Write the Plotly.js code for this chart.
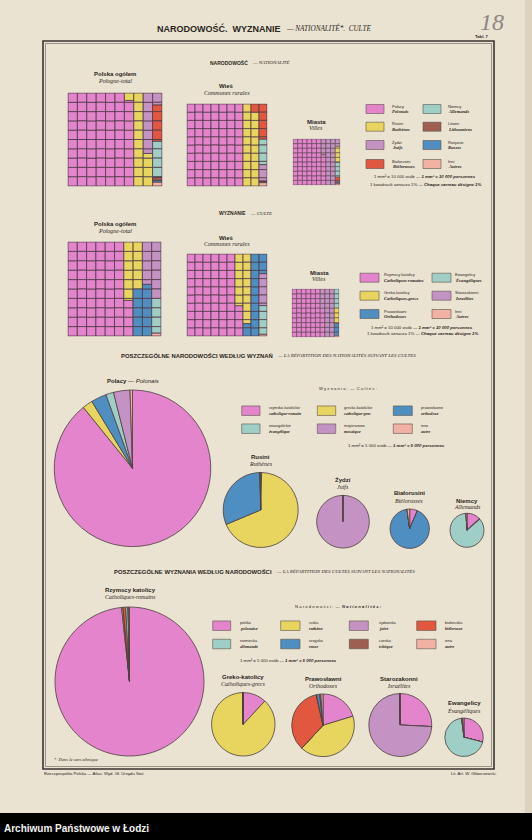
<!DOCTYPE html>
<html><head><meta charset="utf-8">
<script src="https://cdn.plot.ly/plotly-3.0.1.min.js"></script>
<style>html,body{margin:0;padding:0;background:#000;}#chart{width:532px;height:840px;}</style>
</head><body><div id="chart"></div>
<script>
// ---------- DATA (percentages read from the plate) ----------
const natNames = ['Polacy','Rusini','Żydzi','Białorusini','Niemcy','Litwini','Rosjanie','Inni'];
const natFr = ['Polonais','Ruthènes','Juifs','Biélorusses','Allemands','Lithuaniens','Russes','Autres'];
const natPolska = [69.2, 14.3, 7.8, 3.9, 3.9, 0.3, 0.2, 0.4];
const natWies   = [70.0, 19.0, 2.0, 5.3, 3.1, 0.1, 0.1, 0.4];
const natMiasta = [66.6, 3.5, 25.0, 1.0, 3.2, 0.1, 0.3, 0.3];

const relNames = ['Rzymscy katolicy','Greko-katolicy','Prawosławni','Ewangelicy','Starozakonni','Inni'];
const relFr = ['Catholiques romains','Catholiques-grecs','Orthodoxes','Évangéliques','Israélites','Autres'];
const relPolska = [63.8, 11.2, 10.5, 3.7, 10.5, 0.3];
const relWies   = [63.7, 14.8, 13.9, 3.5, 3.9, 0.2];
const relMiasta = [66.0, 3.2, 2.5, 4.0, 24.0, 0.3];

const cultNames = ['rzymsko-katolickie','grecko-katolickie','prawosławne','ewangelickie','mojżeszowe','inne'];
const cultFr = ['catholique-romain','catholique-grec','orthodoxe','évangélique','mosaïque','autre'];
const polacyCult      = [89.2, 2.1, 3.2, 1.6, 3.4, 0.5];
const rusiniCult      = [0.4, 68.3, 31.0, 0.1, 0.0, 0.2];
const zydziCult       = [0.2, 0.0, 0.0, 0.0, 99.6, 0.2];
const bialorusiniCult = [6.4, 0.0, 91.4, 0.0, 0.0, 2.2];
const niemcyCult      = [13.0, 0.1, 0.5, 85.4, 0.0, 1.0];

const ethNames = ['polska','ruska','żydowska','białoruska','niemiecka','rosyjska','czeska','inna'];
const ethFr = ['polonaise','ruthène','juive','biélorusse','allemande','russe','tchèque','autre'];
const rzymscyEth     = [98.3, 0.3, 0.0, 0.6, 0.5, 0.0, 0.1, 0.2];
const grekoEth       = [11.9, 87.8, 0.0, 0.1, 0.1, 0.0, 0.0, 0.1];
const prawoslawniEth = [20.3, 41.6, 0.0, 34.6, 0.2, 1.6, 0.6, 1.1];
const starozakonniEth= [25.8, 0.0, 74.0, 0.0, 0.0, 0.0, 0.0, 0.2];
const ewangelicyEth  = [29.0, 0.0, 0.0, 0.0, 69.0, 0.0, 1.0, 1.0];

// ---------- STYLE ----------
const PINK='#e384cc', YEL='#e8d55f', PUR='#c593c3', RED='#e2573f', TEAL='#9fcec6', BRN='#9f5f50', BLUE='#4e8ec1', SAL='#f1b2a3';
const NAT_COL  = [PINK, YEL, PUR, RED, TEAL, BRN, BLUE, SAL];
const REL_COL  = [PINK, YEL, BLUE, TEAL, PUR, SAL];
const ETH_COL  = [PINK, YEL, PUR, RED, TEAL, BLUE, BRN, SAL];
const INK='#2a2522', GRID='#4f3a46', PIELINE='#4d3f3f';
const SANS='Liberation Sans, Arial, sans-serif', SERIF='Liberation Serif, Times New Roman, serif';
const W=532, H=840;
const X = px => px/W, Y = py => 1 - py/H;

const traces=[], annotations=[], shapes=[];
const layout = {width:W, height:H, margin:{l:0,r:0,t:0,b:0,pad:0}, paper_bgcolor:'#eae3d1', plot_bgcolor:'rgba(0,0,0,0)',
  showlegend:false, barmode:'overlay', bargap:0, annotations, shapes};

// ---------- WAFFLES ----------
function wafflePieces(vals){
  const total = vals.reduce((a,b)=>a+b,0);
  const order = vals.map((v,i)=>i).filter(i=>i!==vals.length-1)
    .sort((a,b)=>vals[b]-vals[a]).concat([vals.length-1]);
  let t=0; const out=[];
  order.forEach(i=>{
    const a=t*100/total, b=(t+vals[i])*100/total; t+=vals[i];
    const p={idx:i,x:[],base:[],y:[]};
    let s=a;
    while(s < b-1e-9){
      const cell=Math.floor(s+1e-9), e=Math.min(b, cell+1);
      const col=Math.floor(cell/10), o0=s-col*10, o1=e-col*10;
      let y0,y1;
      if(col%2===0){y0=o0;y1=o1;} else {y0=10-o1;y1=10-o0;}
      p.x.push(col); p.base.push(y0); p.y.push(y1-y0);
      s=e;
    }
    out.push(p);
  });
  return out;
}
const waffles = [
  {vals:natPolska, cols:NAT_COL, box:[68,93,162,186], lw:0.8},
  {vals:natWies,   cols:NAT_COL, box:[187,104,267,186], lw:0.75},
  {vals:natMiasta, cols:NAT_COL, box:[293,139,340,185], lw:0.55},
  {vals:relPolska, cols:REL_COL, box:[68,242,161,336], lw:0.8},
  {vals:relWies,   cols:REL_COL, box:[187,254,267,336], lw:0.75},
  {vals:relMiasta, cols:REL_COL, box:[292,289,339,337], lw:0.55},
];
waffles.forEach((w,k)=>{
  const n=k+1, xa='x'+(n>1?n:''), ya='y'+(n>1?n:'');
  const [x0,y0,x1,y1]=w.box;
  const pad=0.06, cw=(x1-x0)/10, ch=(y1-y0)/10;
  layout['xaxis'+(n>1?n:'')] = {domain:[X(x0-pad*cw), X(x1+pad*cw)], range:[-0.5-pad, 9.5+pad], visible:false, fixedrange:true, anchor:ya};
  layout['yaxis'+(n>1?n:'')] = {domain:[Y(y1+pad*ch), Y(y0-pad*ch)], range:[-pad, 10+pad], visible:false, fixedrange:true, anchor:xa};
  wafflePieces(w.vals).forEach(p=>{
    traces.push({type:'bar', x:p.x, y:p.y, base:p.base, width:1, xaxis:xa, yaxis:ya,
      marker:{color:w.cols[p.idx], line:{color:GRID, width:w.lw}}, hoverinfo:'skip', showlegend:false});
  });
});

// ---------- PIES ----------
const pies = [
  {vals:polacyCult, labels:cultNames, cols:REL_COL, c:[132.5,468.3], r:78.3},
  {vals:rusiniCult, labels:cultNames, cols:REL_COL, c:[260.7,510], r:37.5},
  {vals:zydziCult, labels:cultNames, cols:REL_COL, c:[343,521.7], r:26.3},
  {vals:bialorusiniCult, labels:cultNames, cols:REL_COL, c:[409.7,528.7], r:19.7},
  {vals:niemcyCult, labels:cultNames, cols:REL_COL, c:[467,530.3], r:17},
  {vals:rzymscyEth, labels:ethNames, cols:ETH_COL, c:[129.5,681.5], r:74.5},
  {vals:grekoEth, labels:ethNames, cols:ETH_COL, c:[243.3,724.3], r:31.7},
  {vals:prawoslawniEth, labels:ethNames, cols:ETH_COL, c:[323,725.3], r:31.3},
  {vals:starozakonniEth, labels:ethNames, cols:ETH_COL, c:[400.3,725], r:31.5},
  {vals:ewangelicyEth, labels:ethNames, cols:ETH_COL, c:[464,737.3], r:19.2},
];
pies.forEach(p=>{
  const [cx,cy]=p.c, r=p.r;
  traces.push({type:'pie', values:p.vals, labels:p.labels, sort:false, direction:'clockwise', rotation:0,
    marker:{colors:p.cols, line:{color:PIELINE, width:0.8}}, textinfo:'none', hoverinfo:'skip', showlegend:false,
    domain:{x:[X(cx-r), X(cx+r)], y:[Y(cy+r), Y(cy-r)]}});
});

// ---------- TEXT ----------
function T(text,x,y,o={}){
  annotations.push({text, x:X(x), y:Y(y), xref:'paper', yref:'paper', showarrow:false,
    xanchor:o.a||'center', yanchor:'middle', borderpad:0,
    font:{family:o.f||SANS, size:o.s||5, color:o.c||INK}});
}
function rect(x0,y0,x1,y1,fill,lc,lw,layer){
  shapes.push({type:'rect', xref:'paper', yref:'paper', x0:X(x0), x1:X(x1), y0:Y(y1), y1:Y(y0),
    fillcolor:fill, line:{color:lc||'rgba(0,0,0,0)', width:lw||0}, layer:layer||'below'});
}
// page decoration
rect(525,0,532,813,'#dcd2bd');
rect(0,813,532,840,'#000000',null,0,'above');
rect(43,41,494,769,'rgba(0,0,0,0)','#3a3431',1.6);
rect(45.5,43.5,491.5,766.5,'rgba(0,0,0,0)','#4a4440',0.5);
T('<b>Archiwum Państwowe w Łodzi</b>',3,828,{a:'left',s:10,c:'#f2f2f2'});

// headers
T('<b>NARODOWOŚĆ.  WYZNANIE</b>',282,28.3,{a:'right',s:9});
T('<i>— NATIONALITÉ*.  CULTE</i>',285,28.3,{a:'left',s:7.2,f:SERIF});
T('<i>18</i>',492,22,{s:24,f:SERIF,c:'#8c8683'});
T('<b>Tabl. 7</b>',481.7,36.5,{s:4.2});

T('<b>NARODOWOŚĆ</b>',248.5,62.3,{a:'right',s:5});
T('<i>— NATIONALITÉ</i>',250.5,62.3,{a:'left',s:5,f:SERIF});
T('<b>WYZNANIE</b>',247,213.3,{a:'right',s:5});
T('<i>— CULTE</i>',249,213.3,{a:'left',s:5,f:SERIF});

// waffle titles
const wt=[['Polska ogółem','Pologne-total',115,74.3,80.7],['Wieś','Communes rurales',226.7,85.7,92.6],['Miasta','Villes',316,121.7,127.7],
          ['Polska ogółem','Pologne-total',115,224,230.8],['Wieś','Communes rurales',226.7,237.7,244.3],['Miasta','Villes',319,273.3,279.2]];
wt.forEach(t=>{T('<b>'+t[0]+'</b>',t[2],t[3],{s:6});T('<i>'+t[1]+'</i>',t[2],t[4],{s:6,f:SERIF});});

// nationality legend (waffle)
function legItem(sx0,sx1,yc,h,col,lx,pl,fr,s1,s2){
  rect(sx0,yc-h/2,sx1,yc+h/2,col,'#5e514c',0.6);
  T(pl,lx,yc-3,{a:'left',s:s1||4});
  T('<b><i>'+fr+'</i></b>',lx,yc+2.8,{a:'left',s:s2||4.6,f:SERIF});
}
const nlCols=[[366,384,390.7],[423,441,446.7]], nlRows=[109,126.7,145,164];
const nlOrder=[[0,1,2,3],[4,5,6,7]];
nlOrder.forEach((colIdx,c)=>colIdx.forEach((i,r)=>legItem(nlCols[c][0],nlCols[c][1],nlRows[r],9,NAT_COL[i],nlCols[c][2],natNames[i],natFr[i])));
T('1 mm² = 10 000 osób — <b><i>1 mm² = 10 000 personnes</i></b>',425,176,{s:4.3});
T('1 kwadracik oznacza 1% — <b><i>Chaque carreau désigne 1%</i></b>',425,184.3,{s:4.3});

// religion legend (waffle)
const rlCols=[[360,379,383],[432,451,454]], rlRows=[277.7,295.7,314];
const rlOrder=[[0,1,2],[3,4,5]];
rlOrder.forEach((colIdx,c)=>colIdx.forEach((i,r)=>legItem(rlCols[c][0],rlCols[c][1],rlRows[r],9,REL_COL[i],rlCols[c][2],relNames[i],relFr[i])));
T('1 mm² = 10 000 osób — <b><i>1 mm² = 10 000 personnes</i></b>',422,327.3,{s:4.3});
T('1 kwadracik oznacza 1% — <b><i>Chaque carreau désigne 1%</i></b>',422,334,{s:4.3});

// section 3
T('<b>POSZCZEGÓLNE NARODOWOŚCI WEDŁUG WYZNAŃ</b>',273.5,355,{a:'right',s:5.9});
T('<i>— LA RÉPARTITION DES NATIONALITÉS SUIVANT LES CULTES</i>',275.5,355,{a:'left',s:5,f:SERIF});
T('<b>Polacy</b> — <i>Polonais</i>',133.3,380.7,{s:6});
T('W y z n a n i a :  —  <i>C u l t e s :</i>',348,388.3,{s:4.2});
const s3Cols=[[241.7,260,267.7],[317.3,335.7,343.3],[393.3,412.3,420]], s3Rows=[410.7,428.7];
[[0,1,2],[3,4,5]].forEach((row,r)=>row.forEach((i,c)=>legItem(s3Cols[c][0],s3Cols[c][1],s3Rows[r],9.5,REL_COL[i],s3Cols[c][2],cultNames[i],cultFr[i],3.8,4.2)));
T('1 mm² = 5 000 osób — <b><i>1 mm² = 5 000 personnes</i></b>',396.7,445.3,{s:4.3});
const pt3=[['Rusini','Ruthènes',260.7,456.7,464.3],['Żydzi','Juifs',343,480.3,487],['Białorusini','Biélorusses',409,493.3,500.8],['Niemcy','Allemands',467,500.7,507]];
pt3.forEach(t=>{T('<b>'+t[0]+'</b>',t[2],t[3],{s:6});T('<i>'+t[1]+'</i>',t[2],t[4],{s:6,f:SERIF});});

// section 4
T('<b>POSZCZEGÓLNE WYZNANIA WEDŁUG NARODOWOŚCI</b>',272.8,571.7,{a:'right',s:5.9});
T('<i>— LA RÉPARTITION DES CULTES SUIVANT LES NATIONALITÉS</i>',275,571.7,{a:'left',s:5,f:SERIF});
T('<b>Rzymscy katolicy</b>',130,590,{s:6});
T('<i>Catholiques-romains</i>',130,596.7,{s:6,f:SERIF});
T('N a r o d o w o ś c i :  —  <b><i>N a t i o n a l i t é s :</i></b>',338.3,606.7,{s:4.2});
const s4Cols=[[212.7,230.7,239],[280.7,300,308.3],[349.3,368.3,377.7],[416.7,436,444.3]], s4Rows=[625.7,644];
[[0,1,2,3],[4,5,6,7]].forEach((row,r)=>row.forEach((i,c)=>legItem(s4Cols[c][0],s4Cols[c][1],s4Rows[r],9.5,ETH_COL[i],s4Cols[c][2],ethNames[i],ethFr[i],3.8,4.2)));
T('1 mm² = 5 000 osób — <b><i>1 mm² = 5 000 personnes</i></b>',288,660.3,{s:4.3});
const pt4=[['Greko-katolicy','Catholiques-grecs',243.3,676.7,683.8],['Prawosławni','Orthodoxes',323,679,685.7],['Starozakonni','Israélites',399.3,679,685.7],['Ewangelicy','Évangéliques',464,703.3,710.5]];
pt4.forEach(t=>{T('<b>'+t[0]+'</b>',t[2],t[3],{s:6});T('<i>'+t[1]+'</i>',t[2],t[4],{s:6,f:SERIF});});

T('<i>*  Dans le sens ethnique</i>',52.7,759.3,{a:'left',s:4.5,f:SERIF});
T('Rzeczpospolita Polska — Atlas. Wyd. Gł. Urzędu Stat.',43,773.3,{a:'left',s:4.2});
T('Lit. Art. W. Główczewski.',498,773.3,{a:'right',s:4.2});

Plotly.newPlot('chart', traces, layout, {staticPlot:true, displayModeBar:false});
</script></body></html>
